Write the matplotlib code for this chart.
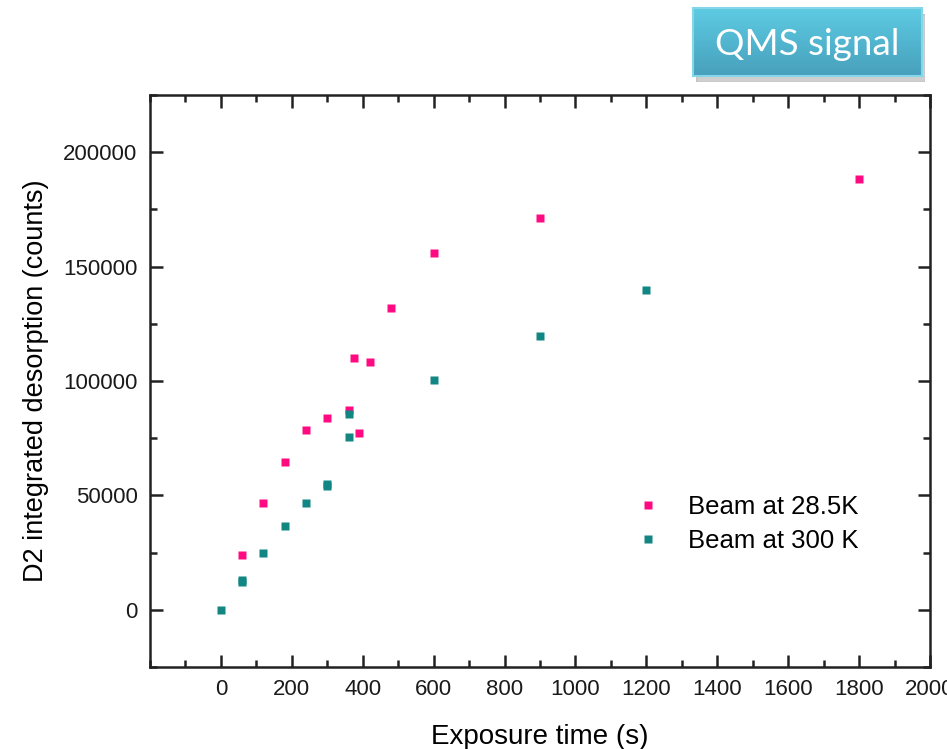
import numpy as np
import matplotlib
matplotlib.use('Agg')
import matplotlib.pyplot as plt
from matplotlib.ticker import MultipleLocator

# Beam at 28.5 K
t_cold = [60, 120, 180, 240, 300, 360, 375, 390, 420, 480, 600, 900, 1800]
d_cold = [24000, 46500, 64500, 78500, 84000, 87500, 110000, 77500, 108500, 132000, 156000, 171500, 188500]

# Beam at 300 K
t_warm = [0, 60, 60, 120, 180, 240, 300, 300, 360, 360, 600, 900, 1200]
d_warm = [0, 12000, 13000, 25000, 36500, 46500, 54000, 55000, 75500, 85500, 100500, 119500, 140000]

pink = '#ff0a80'
teal = '#118683'

plt.rcParams['font.family'] = ['Liberation Sans', 'DejaVu Sans']

fig = plt.figure(figsize=(9.47, 7.49), dpi=100)
ax = fig.add_axes([0.1584, 0.1095, 0.8236, 0.7635])

ax.plot(t_cold, d_cold, 's', color=pink, markersize=6, mec='none', label='Beam at 28.5K')
ax.plot(t_warm, d_warm, 's', color=teal, markersize=6, mec='none', label='Beam at 300 K')

ax.set_xlim(-200, 2000)
ax.set_ylim(-25000, 225000)
ax.xaxis.set_minor_locator(MultipleLocator(100))
ax.yaxis.set_minor_locator(MultipleLocator(25000))
ax.set_xticks(np.arange(0, 2001, 200))
ax.set_yticks(np.arange(0, 200001, 50000))

for s in ax.spines.values():
    s.set_linewidth(1.8)
    s.set_color('#222222')
ax.tick_params(which='both', direction='in', top=True, right=True, width=1.8, color='#222222')
ax.tick_params(which='major', length=9, labelsize=16, pad=9, labelcolor='#1a1a1a')
ax.tick_params(which='minor', length=5)

ax.set_xlabel('Exposure time (s)', fontsize=20, labelpad=17)
ax.set_ylabel('D2 integrated desorption (counts)', fontsize=19.5, labelpad=10)

ax.legend(loc='center left', bbox_to_anchor=(0.596, 0.25), frameon=False, fontsize=18.5,
          handlelength=0.8, handletextpad=1.15, labelspacing=0.38, markerscale=0.9)

# title box in the corner
bx, by, bw, bh = 693 / 947, 1 - 76 / 749, 229 / 947, 68 / 749
shadow = fig.add_axes([bx + 3 / 947, by - 6 / 749, bw, bh])
shadow.add_patch(plt.Rectangle((0, 0), 1, 1, color='#a0a0a0', alpha=0.5))
shadow.set_axis_off()
box = fig.add_axes([bx, by, bw, bh])
grad = np.linspace(0, 1, 64).reshape(-1, 1)
top_c = np.array([0x5e, 0xcb, 0xe3]) / 255
bot_c = np.array([0x47, 0xa0, 0xbc]) / 255
img = top_c[None, None, :] * (1 - grad[:, :, None]) + bot_c[None, None, :] * grad[:, :, None]
box.imshow(img, aspect='auto', extent=(0, 1, 0, 1))
box.set_xlim(0, 1)
box.set_ylim(0, 1)
box.set_xticks([])
box.set_yticks([])
for s in box.spines.values():
    s.set_color('#86d6ea')
    s.set_linewidth(1.5)
box.text(0.5, 0.47, 'QMS signal', color='white', fontsize=26.5, ha='center', va='center',
         family=['Lato', 'DejaVu Sans'])

fig.savefig('out.png', dpi=100)
